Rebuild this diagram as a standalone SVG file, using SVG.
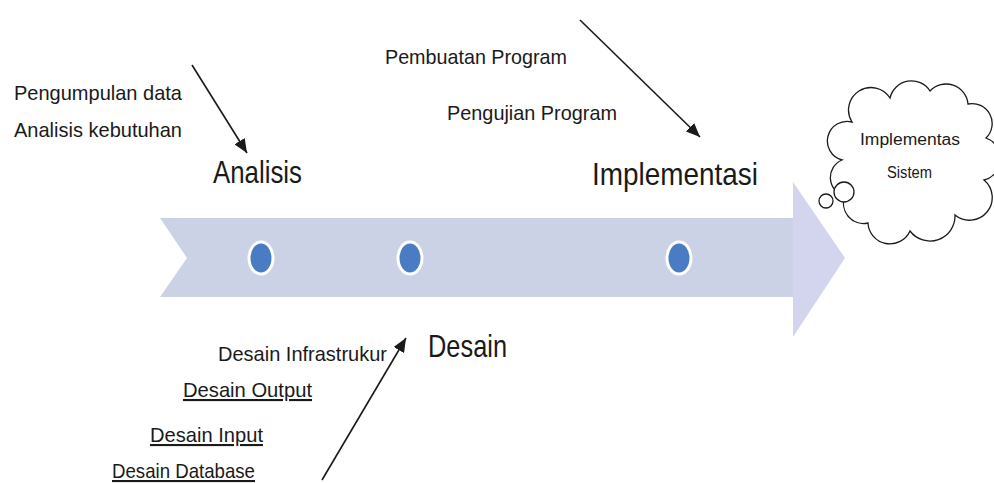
<svg xmlns="http://www.w3.org/2000/svg" width="994" height="483" viewBox="0 0 994 483">
<defs>
<style>
.lbl{font-family:"Liberation Sans",Arial,sans-serif;fill:#1a1a1a;font-size:21px}
.big{font-family:"Liberation Sans",Arial,sans-serif;fill:#1a1a1a;font-size:32px}
.cl{font-family:"Liberation Sans",Arial,sans-serif;fill:#1a1a1a;font-size:16px}
.dot{fill:#4a7cc4;stroke:#ffffff;stroke-width:3}
.con{stroke:#1a1a1a;stroke-width:1.6;fill:none;marker-end:url(#ah)}
</style>
<marker id="ah" markerUnits="userSpaceOnUse" markerWidth="16" markerHeight="12" refX="14" refY="6" orient="auto">
<path d="M0,0 L14,6 L0,12 Z" fill="#1a1a1a"/>
</marker>
</defs>
<rect width="994" height="483" fill="#ffffff"/>
<g id="timeline">
<polygon points="160,218 795,218 795,297 160,297 187,258" fill="#ccd2e6"/>
<polygon points="793,182 845,258 793,337" fill="#d3d5ee"/>
<ellipse class="dot" cx="261" cy="258" rx="12" ry="16"/>
<ellipse class="dot" cx="410" cy="258" rx="12" ry="16"/>
<ellipse class="dot" cx="679" cy="258" rx="12" ry="16"/>
</g>
<g id="connectors">
<line class="con" x1="192" y1="65" x2="247" y2="153"/>
<line class="con" x1="580" y1="20" x2="700" y2="137"/>
<line class="con" x1="322" y1="480" x2="406" y2="338"/>
</g>
<g id="analisis">
<text class="big" x="213" y="183" textLength="89" lengthAdjust="spacingAndGlyphs">Analisis</text>
<text class="lbl" x="14" y="100" textLength="168" lengthAdjust="spacingAndGlyphs">Pengumpulan data</text>
<text class="lbl" x="14" y="137" textLength="168" lengthAdjust="spacingAndGlyphs">Analisis kebutuhan</text>
</g>
<g id="implementasi">
<text class="big" x="592" y="185" textLength="166" lengthAdjust="spacingAndGlyphs">Implementasi</text>
<text class="lbl" x="385" y="64" textLength="182" lengthAdjust="spacingAndGlyphs">Pembuatan Program</text>
<text class="lbl" x="447" y="120" textLength="170" lengthAdjust="spacingAndGlyphs">Pengujian Program</text>
</g>
<g id="desain">
<text class="big" x="428" y="357" textLength="79" lengthAdjust="spacingAndGlyphs">Desain</text>
<text class="lbl" x="218" y="361" textLength="169" lengthAdjust="spacingAndGlyphs">Desain Infrastrukur</text>
<text class="lbl" x="183" y="397" textLength="129" lengthAdjust="spacingAndGlyphs" text-decoration="underline">Desain Output</text>
<text class="lbl" x="150" y="442" textLength="113" lengthAdjust="spacingAndGlyphs" text-decoration="underline">Desain Input</text>
<text class="lbl" x="112" y="478" textLength="143" lengthAdjust="spacingAndGlyphs" text-decoration="underline">Desain Database</text>
</g>
<g id="cloud" fill="#ffffff" stroke="#1a1a1a" stroke-width="1.3">
<path d="M842,160 A19,19 0 0 1 852,122 A22,22 0 0 1 890,98 A22,22 0 0 1 930,91 A22,22 0 0 1 968,104 A20,20 0 0 1 986,138 A22,22 0 0 1 984,180 A22,22 0 0 1 955,215 A25,25 0 0 1 910,231 A22,22 0 0 1 868,223 A20,20 0 0 1 845,196 A19,19 0 0 1 842,160 Z"/>
<circle cx="844" cy="192" r="10"/>
<circle cx="826" cy="201" r="7"/>
<text class="cl" x="860" y="145" textLength="100" lengthAdjust="spacingAndGlyphs" stroke="none">Implementas</text>
<text class="cl" x="887" y="178" textLength="45" lengthAdjust="spacingAndGlyphs" stroke="none">Sistem</text>
</g>
</svg>
